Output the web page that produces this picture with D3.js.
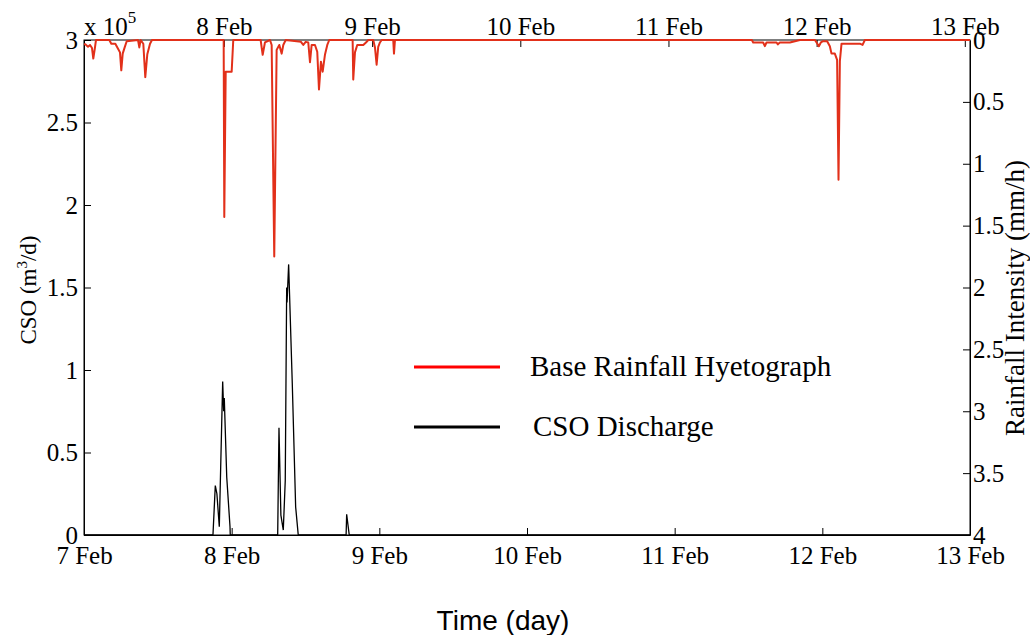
<!DOCTYPE html>
<html>
<head>
<meta charset="utf-8">
<script src="https://cdn.jsdelivr.net/npm/d3@7"></script>
<style>
  body { margin: 0; background: #fff; }
</style>
</head>
<body>
<script>
// hours since 7 Feb 00:00
const csoHours = [0, 20.96, 21.34, 21.6, 21.99, 22.54, 22.7, 22.8, 23.2, 23.73, 23.77,
  31.48, 31.69, 32.0, 32.39, 32.71, 32.94, 33.0, 33.26, 33.85, 34.4, 34.82,
  42.6, 42.69, 43.11, 144];
const csoValues = [0, 0, 0.30, 0.25, 0.05, 0.93, 0.75, 0.83, 0.35, 0.05, 0,
  0, 0.65, 0.12, 0.03, 0.33, 1.5, 1.41, 1.64, 0.92, 0.17, 0,
  0, 0.125, 0, 0];

const rainHours = [0, 0.21, 0.65, 0.98, 1.30, 1.51, 1.74, 1.95,
  4.11, 4.44, 5.09, 5.53, 5.85, 6.06, 6.29, 6.61, 6.94,
  8.78, 8.99, 9.21, 9.64, 9.96, 10.29, 10.73, 11.05,
  22.70, 22.80, 23.03, 24.0, 24.26,
  28.71, 29.04, 29.41, 30.23, 30.50, 30.92, 31.31, 31.74, 32.13, 32.39, 32.78,
  35.26, 35.64, 36.03, 36.45, 36.73, 37.0, 37.54, 37.91, 38.19, 38.51, 38.79, 39.16, 39.54, 39.86,
  43.66, 43.76, 44.04, 44.41, 45.39, 45.83, 46.20,
  47.01, 47.29, 47.56, 47.82, 48.10, 48.38,
  50.26, 50.38, 50.54,
  108.55, 108.76, 110.38, 110.66, 110.93, 112.56, 112.77, 113.1, 114.72, 116.35,
  118.79, 119.06, 119.44, 119.76, 120.13, 120.78, 121.22, 121.49, 122.03, 122.40, 122.63, 122.85, 123.12, 123.94, 126.1, 126.54, 126.91,
  144];
const rainValues = [0.035, 0.035, 0.054, 0.04, 0.065, 0.15, 0.075, 0,
  0, 0.03, 0.03, 0.07, 0.1, 0.245, 0.11, 0.06, 0.01,
  0, 0.06, 0, 0.03, 0.3, 0.115, 0.03, 0,
  0, 1.43, 0.256, 0.256, 0,
  0, 0.12, 0.02, 0, 0.04, 1.75, 0.08, 0.04, 0.11, 0.04, 0,
  0.015, 0.04, 0.015, 0.02, 0.18, 0.04, 0.04, 0.095, 0.40, 0.175, 0.256, 0.12, 0.04, 0,
  0, 0.32, 0.1, 0.04, 0.04, 0.02, 0,
  0, 0.06, 0.2, 0.055, 0.02, 0,
  0, 0.11, 0,
  0, 0.02, 0.02, 0.05, 0.02, 0.02, 0.035, 0.02, 0.02, 0,
  0, 0.02, 0.05, 0.02, 0.01, 0.01, 0.05, 0.11, 0.11, 0.16, 1.13, 0.17, 0.03, 0.03, 0.03, 0.04, 0,
  0];

const leftTicks = [0, 0.5, 1, 1.5, 2, 2.5, 3];
const rightTicks = [0, 0.5, 1, 1.5, 2, 2.5, 3, 3.5, 4];
const legendNames = ["Base Rainfall Hyetograph", "CSO Discharge"];
const legendColors = ["#ff0000", "#000000"];

const W = 1030, H = 635;
const L = 84, R = 970, T = 40, B = 535;
const serif = "Liberation Serif, Times New Roman, serif";

const t0 = new Date(2012, 1, 7);
const t1 = new Date(2012, 1, 13);
const toDate = h => new Date(t0.getTime() + h * 3600000);

const svg = d3.select("body").append("svg")
  .attr("width", W).attr("height", H)
  .attr("font-family", serif);

const x = d3.scaleTime().domain([t0, t1]).range([L, R]);
// the rainfall axes sits slightly shifted in the original
const xTop = d3.scaleTime().domain([t0, t1]).range([75.8, 964.8]);
const yL = d3.scaleLinear().domain([0, 3]).range([B, T]);
const yR = d3.scaleLinear().domain([0, 4]).range([T, B]);

const fmt = d3.timeFormat("%-d %b");
const days = d3.timeDay.range(t0, d3.timeDay.offset(t1, 1));

svg.append("clipPath").attr("id", "clip")
  .append("rect").attr("x", L).attr("y", T - 2).attr("width", R - L).attr("height", B - T + 2);

// box
svg.append("rect").attr("x", L).attr("y", T).attr("width", R - L).attr("height", B - T)
  .attr("fill", "none").attr("stroke", "#000").attr("stroke-width", 1);

// bottom axis
const xAxis = d3.axisBottom(x).tickValues(days).tickFormat(fmt).tickSizeInner(-7).tickSizeOuter(0).tickPadding(11);
svg.append("g").attr("transform", `translate(0,${B})`).call(xAxis);

// top axis
const topDays = days.filter(d => xTop(d) >= L && xTop(d) <= R + 1);
const xAxisTop = d3.axisTop(xTop).tickValues(topDays).tickFormat(fmt).tickSizeInner(-7).tickSizeOuter(0).tickPadding(5);
const gxt = svg.append("g").attr("transform", `translate(0,${T})`).call(xAxisTop);
gxt.select(".domain").remove();

// left axis
const yAxisL = d3.axisLeft(yL).tickValues(leftTicks).tickFormat(d3.format("")).tickSizeInner(-7).tickSizeOuter(0).tickPadding(6);
svg.append("g").attr("transform", `translate(${L},0)`).call(yAxisL);

// right axis
const yAxisR = d3.axisRight(yR).tickValues(rightTicks).tickFormat(d3.format("")).tickSizeInner(-7).tickSizeOuter(0).tickPadding(3);
svg.append("g").attr("transform", `translate(${R},0)`).call(yAxisR);

svg.selectAll(".tick text").attr("font-size", 25).attr("font-family", serif).attr("fill", "#000");
svg.selectAll(".tick line").attr("stroke", "#000");
svg.selectAll(".domain").attr("stroke", "#000");

// x 10^5
const ex = svg.append("text").attr("x", 84).attr("y", 35).attr("font-size", 25);
ex.append("tspan").text("x 10");
ex.append("tspan").attr("dy", -12).attr("font-size", 17).text("5");

// CSO line
const csoLine = d3.line()
  .x((d, i) => x(toDate(csoHours[i])))
  .y(d => yL(d));
svg.append("path")
  .datum(csoValues)
  .attr("clip-path", "url(#clip)")
  .attr("fill", "none")
  .attr("stroke", "#000")
  .attr("stroke-width", 1.3)
  .attr("d", csoLine);

// rainfall line
const rainLine = d3.line()
  .x((d, i) => x(toDate(rainHours[i])))
  .y(d => yR(d));
svg.append("path")
  .datum(rainValues)
  .attr("clip-path", "url(#clip)")
  .attr("fill", "none")
  .attr("stroke", "#e2301a")
  .attr("stroke-width", 2)
  .attr("stroke-linejoin", "round")
  .attr("d", rainLine);

// legend
const legY = [367, 427];
legendNames.forEach((n, i) => {
  svg.append("line").attr("x1", 414).attr("x2", 500).attr("y1", legY[i]).attr("y2", legY[i])
    .attr("stroke", legendColors[i]).attr("stroke-width", 3);
  svg.append("text").attr("x", i == 0 ? 530 : 533).attr("y", legY[i] + 9)
    .attr("font-size", 29).text(n);
});

// axis titles
const yt = svg.append("text")
  .attr("transform", `translate(36,290) rotate(-90)`)
  .attr("text-anchor", "middle").attr("font-size", 23);
yt.append("tspan").text("CSO (m");
yt.append("tspan").attr("dy", -9).attr("font-size", 15).text("3");
yt.append("tspan").attr("dy", 9).text("/d)");

svg.append("text")
  .attr("transform", `translate(1024,298) rotate(-90)`)
  .attr("text-anchor", "middle").attr("font-size", 27)
  .text("Rainfall Intensity (mm/h)");

svg.append("text")
  .attr("x", 503).attr("y", 630)
  .attr("text-anchor", "middle")
  .attr("font-family", "Liberation Sans, Arial, sans-serif")
  .attr("font-size", 28)
  .text("Time (day)");
</script>
</body>
</html>
